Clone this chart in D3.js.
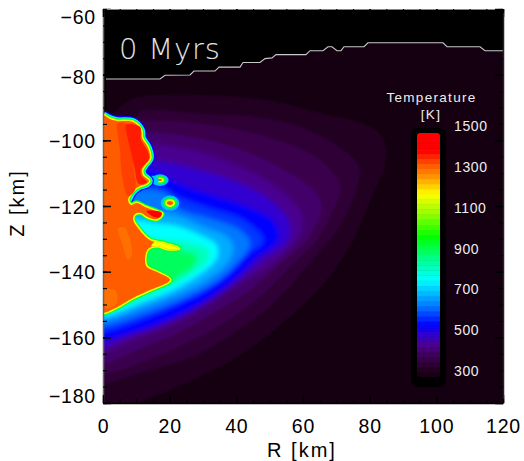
<!DOCTYPE html>
<html>
<head>
<meta charset="utf-8">
<script src="https://cdn.jsdelivr.net/npm/d3@7"></script>
<style>
  html, body { margin: 0; padding: 0; background: #fff; }
  svg { display: block; }
</style>
</head>
<body>
<div id="chart"></div>
<script>
// Temperature field below the surface, with a colour bar

// Ticks

var xTicks = [0, 20, 40, 60, 80, 100, 120]
var yTicks = [-60, -80, -100, -120, -140, -160, -180]
var xMinor = d3.range(0, 121, 5)
var yMinor = d3.range(-180, -59, 5)
var barTicks = [1500, 1300, 1100, 900, 700, 500, 300]

// Colour table

var colorTemps = [300, 340, 400, 460, 510, 555, 650, 780, 880, 990, 1100, 1200, 1290, 1340, 1415, 1500]
var colorValues = ["#140010", "#240022", "#3c0050", "#4a0090", "#3000d0", "#0000ff", "#0078ff", "#00ffff", "#00ff90", "#00ff00", "#90ff00", "#ffff00", "#ff9000", "#ff5c00", "#ff0000", "#ff0000"]

// Surface line [R, Z]

var surfaceLine = [[0.9,-81.3],[17.1,-81.3],[18.6,-80.2],[26.1,-80.1],[27.3,-78.9],[33.6,-78.9],[34.8,-77.7],[41.1,-77.7],[42,-76.3],[47.1,-76.3],[48.6,-75.1],[50.7,-74.9],[51.9,-73.9],[60.9,-73.9],[62.1,-72.7],[66,-72.7],[67.5,-71.5],[68.7,-71.5],[70.2,-72.7],[71.4,-72.7],[72.3,-71.5],[78.3,-71.5],[79.5,-70.3],[102,-70.3],[103.2,-71.5],[113.1,-71.5],[114.6,-72.7],[120,-72.7]]

// Isotherms [R, Z], outermost first

var isoTemps = [335, 365, 395, 425, 460, 510, 555, 600, 650, 700, 780, 840, 920]
var iso335 = [[0,-92],[3.1,-91.8],[5.1,-89.8],[9.1,-87.2],[28.1,-86.2],[49.1,-87.7],[64.1,-91.3],[81.1,-96.3],[84.6,-100.9],[84.6,-108],[81.1,-116.1],[75.1,-130.4],[67.1,-142.5],[56.1,-153.7],[42.1,-164.9],[29.1,-172],[14.1,-178.6],[9.1,-180.1],[0,-181]]
var iso365 = [[9.1,-93.3],[11.6,-91],[29.1,-91.8],[49.1,-93.3],[64.1,-97.9],[74.1,-104.5],[76.9,-108.5],[76.1,-115.1],[72.1,-124.3],[68.1,-130.4],[61.1,-138.5],[51.1,-149.7],[39.1,-158.8],[27.1,-165.9],[12.1,-170.5],[0.9,-174.2]]
var iso395 = [[12.1,-93.8],[29.1,-94.8],[49.1,-98.9],[63.1,-104.5],[69.1,-110],[71.3,-114.1],[69.1,-121.2],[64.1,-130.4],[56.1,-138.5],[47.1,-147.6],[36.1,-155.7],[25.1,-161.8],[12.1,-167.4],[0.9,-171]]
var iso425 = [[12.1,-97.4],[29.1,-99.4],[44.1,-104],[55.1,-109.5],[63.1,-115.1],[65.6,-120.2],[63.6,-126.3],[61.1,-130.4],[53.1,-137.5],[44.1,-145.6],[33.1,-152.7],[22.1,-158.8],[10.1,-163.9],[0.9,-167.9]]
var iso460 = [[13.1,-100.9],[29.1,-103.5],[42.1,-108.5],[52.1,-114.1],[58.6,-120.7],[60.1,-125.3],[58.1,-130.4],[49.6,-138.5],[40.1,-144.1],[29.1,-151.7],[18.1,-157.3],[8.1,-161.3],[0.9,-164.4]]
var iso510 = [[14.1,-106],[29.1,-109],[41.1,-113.1],[50.1,-118.2],[55.6,-124.3],[55.6,-130.4],[47.6,-136.5],[38.1,-144.6],[27.1,-151.7],[16.1,-156.8],[7.1,-159.8],[0.9,-162.6]]
var iso555 = [[14.6,-109],[22.1,-113.1],[32.1,-116.6],[44.1,-120.7],[51.1,-124.8],[52.4,-130.4],[46.1,-135.5],[39.1,-142.5],[29.1,-149.7],[19.1,-154.7],[9.1,-158.3],[0.9,-160.5]]
var iso600 = [[11,-112.8],[18.1,-114.6],[22.1,-117.1],[32.1,-120.7],[42.1,-124.3],[48.1,-130.4],[43.6,-134.4],[37.1,-141],[27.1,-147.6],[17.1,-152.2],[8.1,-155.8],[0.9,-158]]
var iso650 = [[10,-115],[15.1,-115.1],[19.6,-116.6],[22.6,-120.7],[32.1,-123.8],[41.1,-127.3],[44.1,-131.4],[40.1,-137.5],[33.1,-143.6],[23.1,-148.6],[11.1,-153.2],[0.9,-156.3]]
var iso700 = [[18.1,-122.2],[23.1,-123.2],[30.1,-126.3],[37.1,-129.3],[39.1,-132.4],[37.6,-137],[31.1,-142.5],[22.1,-147.1],[11.1,-151.2],[0.9,-154.7]]
var iso780 = [[17.1,-125.3],[23.1,-126.3],[29.1,-128.8],[34.1,-131.9],[34.1,-136],[28.1,-141.5],[21.1,-145.6],[11.1,-149.7],[0.9,-153.5]]
var iso840 = [[16.1,-129.9],[25.1,-130.9],[31.6,-133.4],[31.6,-136.5],[26.1,-141],[20.6,-144.1],[11.1,-148.6],[0.9,-152.5]]
var iso920 = [[14.1,-132.4],[23.1,-133.4],[28.1,-135],[27.1,-138.5],[22.1,-142],[20.6,-143.6],[12,-142]]
var isoList = [iso335, iso365, iso395, iso425, iso460, iso510, iso555, iso600, iso650, iso700, iso780, iso840, iso920]

// Molten region outline [R, Z], and the hotter and cooler patches inside it

var plumeTemp = 1340
var plumeEdge = [[0,-92.3],[2.1,-93.5],[4.2,-94.1],[9,-94.4],[11.4,-96.9],[11.7,-99.3],[13.5,-102.3],[14.1,-105.4],[12.6,-107.5],[11.7,-109],[12,-110.6],[13.8,-112.4],[12.9,-113.3],[11.1,-113.9],[9,-115.4],[7.5,-118.2],[8.4,-119.7],[10.2,-119.1],[12.6,-120.3],[16.5,-121.8],[17.7,-122.4],[16.2,-124],[13.5,-123.4],[11.4,-122.1],[9.6,-122.4],[9,-124],[10.5,-126.7],[14.1,-130.4],[18,-131.3],[21.9,-132.5],[22.8,-133],[19.5,-133.1],[16.2,-132.2],[13.5,-133.1],[12.6,-136.5],[13.2,-138.6],[16.2,-140.1],[20.1,-142.5],[14.1,-145.6],[9,-148],[4.2,-150.8],[0,-152.6]]
var patchMid = [[4.5,-94.7],[7.2,-95.3],[9.3,-109],[9.6,-115.1],[7.5,-117],[5.7,-110.6],[5.1,-102.9]]
var patchRed = [[6.9,-95.3],[11.1,-95.9],[11.4,-99.9],[13.2,-102.9],[13.8,-105.7],[11.4,-108.7],[11.4,-110.6],[13.2,-112.7],[10.8,-113.3],[9.3,-107.5],[8.1,-102.3],[7.2,-98.4]]
var patchTip = [[13.1,-121.5],[17.6,-122],[17.1,-123.4],[15.6,-123.4],[13.5,-122.1]]
var patchCoolA = [[4.5,-126.7],[6.6,-126.7],[8.7,-134.9],[7.5,-136.5],[5.7,-131.3]]
var patchCoolB = [[0.6,-145.6],[3.6,-145.6],[4.2,-149.6],[0.6,-151]]
var patchTail = [[15.5,-130.9],[18,-131.3],[22.8,-133],[19.5,-133.1],[16.2,-132.2],[14.5,-132.4]]
var patchTemps = [1362, 1392, 1415, 1322, 1322, 1190]
var patchList = [patchMid, patchRed, patchTip, patchCoolA, patchCoolB, patchTail]

// Two hot blobs beside the plume: centres, then ring temperatures and radii in km

var blobR = [17.1, 20.1]
var blobZ = [-112.1, -119.1]
var ringTemps = [720, 950, 1190, 1350]
var ringRx = [[2.6, 1.9, 1.2, 0.6], [2.8, 2.1, 1.5, 0.9]]
var ringRy = [[1.8, 1.3, 0.7, 0.3], [2.3, 1.7, 1.2, 0.6]]

// Create the SVG

var margin = { top: 9, right: 21, bottom: 58, left: 103 }

var width = 524 - margin.left - margin.right,
    height = 461 - margin.top - margin.bottom

var svg = d3.select("#chart").append("svg")
    .attr("width", width + margin.left + margin.right)
    .attr("height", height + margin.top + margin.bottom)
    .append("g")
    .attr("transform", "translate(" + margin.left + "," + margin.top + ")")

var defs = svg.append("defs")

defs.append("clipPath").attr("id", "plot")
  .append("rect").attr("width", width).attr("height", height)

defs.append("filter").attr("id", "crisp")
  .append("feGaussianBlur").attr("stdDeviation", 0.8)

defs.append("filter").attr("id", "soft")
  .append("feGaussianBlur").attr("stdDeviation", 2.6)

defs.append("filter").attr("id", "softer")
  .append("feGaussianBlur").attr("stdDeviation", 0.7)

// Scales

var xScale = d3.scaleLinear().domain([0, 120]).range([0, width])
var yScale = d3.scaleLinear().domain([-60, -180]).range([0, height])
var tempColor = d3.scaleLinear().domain(colorTemps).range(colorValues).clamp(true)

var barScale = d3.scaleLinear().domain([300, 1500]).range([377 - margin.top, 133 - margin.top])
var barLabelScale = d3.scaleLinear().domain([300, 1500]).range([371 - margin.top, 126 - margin.top])

// Line generators

var line = d3.line()
  .x(function (d) { return xScale(d[0]) })
  .y(function (d) { return yScale(d[1]) })

var closedCurve = d3.line()
  .x(function (d) { return xScale(d[0]) })
  .y(function (d) { return yScale(d[1]) })
  .curve(d3.curveCatmullRomClosed.alpha(0.5))

var openCurve = d3.line()
  .x(function (d) { return xScale(d[0]) })
  .y(function (d) { return yScale(d[1]) })
  .curve(d3.curveCatmullRom.alpha(0.5))

var ground = d3.area()
  .x(function (d) { return xScale(d[0]) })
  .y0(yScale(-180))
  .y1(function (d) { return yScale(d[1]) })

// Regions touch R=0, so carry them past the left edge and let the clip cut them

function closeLeft(points) {
  return [[-3, points[0][1]]].concat(points, [[-3, points[points.length - 1][1]]])
}

// Sky and ground

var plot = svg.append("g").attr("clip-path", "url(#plot)")

plot.append("rect")
  .attr("width", width)
  .attr("height", height)
  .attr("fill", "#000")

plot.append("path")
  .datum(surfaceLine)
  .attr("d", ground)
  .attr("fill", colorValues[0])

// Temperature bands: the dark outer ones keep their steps, the rest run together

var outerBands = 4

plot.append("g")
  .attr("filter", "url(#crisp)")
  .selectAll("path")
  .data(isoList.slice(0, outerBands))
  .enter().append("path")
  .attr("d", function (d) { return closedCurve(closeLeft(d)) })
  .attr("fill", function (d, i) { return tempColor(isoTemps[i]) })

plot.append("g")
  .attr("filter", "url(#soft)")
  .selectAll("path")
  .data(isoList.slice(outerBands))
  .enter().append("path")
  .attr("d", function (d) { return closedCurve(closeLeft(d)) })
  .attr("fill", function (d, i) { return tempColor(isoTemps[i + outerBands]) })

// Blobs

var blobs = plot.append("g").attr("filter", "url(#softer)")

blobR.forEach(function (r, b) {
  blobs.selectAll(".ring" + b)
    .data(ringTemps)
    .enter().append("ellipse")
    .attr("class", "ring" + b)
    .attr("cx", xScale(r))
    .attr("cy", yScale(blobZ[b]))
    .attr("rx", function (d, i) { return xScale(ringRx[b][i]) - xScale(0) })
    .attr("ry", function (d, i) { return yScale(-60 - ringRy[b][i]) - yScale(-60) })
    .attr("fill", function (d) { return tempColor(d) })
})

// neck between the first blob and the plume
blobs.append("ellipse")
  .attr("cx", xScale(14.8))
  .attr("cy", yScale(blobZ[0]))
  .attr("rx", xScale(2) - xScale(0))
  .attr("ry", yScale(-61.3) - yScale(-60))
  .attr("fill", tempColor(720))

// Plume: cold halo on the upper edge, then hotter rings going in

var plume = plot.append("g").attr("filter", "url(#softer)")
var upperEdge = plumeEdge.slice(0, 16)

plume.append("path").datum(upperEdge).attr("d", openCurve)
  .attr("fill", "none").attr("stroke", tempColor(555)).attr("stroke-width", 10)

plume.append("path").datum(upperEdge).attr("d", openCurve)
  .attr("fill", "none").attr("stroke", tempColor(780)).attr("stroke-width", 7.5)

plume.selectAll(".edge")
  .data([950, 1190])
  .enter().append("path")
  .attr("class", "edge")
  .attr("d", closedCurve(closeLeft(plumeEdge)))
  .attr("fill", "none")
  .attr("stroke", function (d) { return tempColor(d) })
  .attr("stroke-width", function (d) { return d === 950 ? 5.5 : 3 })

plume.append("path")
  .attr("d", closedCurve(closeLeft(plumeEdge)))
  .attr("fill", tempColor(plumeTemp))

plume.selectAll(".patch")
  .data(patchList)
  .enter().append("path")
  .attr("class", "patch")
  .attr("d", function (d) { return closedCurve(d) })
  .attr("fill", function (d, i) { return tempColor(patchTemps[i]) })

// Surface line

plot.append("path")
  .datum(surfaceLine)
  .attr("d", line)
  .attr("fill", "none")
  .attr("stroke", "#c8c8c8")
  .attr("stroke-width", 1.1)

// Colour bar

plot.append("rect")
  .attr("x", 411 - margin.left)
  .attr("y", 128 - margin.top)
  .attr("width", 35)
  .attr("height", 259)
  .attr("rx", 7)
  .attr("fill", "#000")

defs.append("clipPath").attr("id", "barclip")
  .append("rect")
  .attr("x", 417 - margin.left)
  .attr("y", barScale(1500))
  .attr("width", 23)
  .attr("height", barScale(300) - barScale(1500))
  .attr("rx", 3)

var barLevels = d3.range(300, 1500, 25)

svg.append("g")
  .attr("clip-path", "url(#barclip)")
  .selectAll("rect")
  .data(barLevels)
  .enter().append("rect")
  .attr("x", 417 - margin.left)
  .attr("width", 23)
  .attr("y", function (d) { return barScale(d + 25) })
  .attr("height", function (d) { return barScale(d) - barScale(d + 25) + 0.5 })
  .attr("fill", function (d) { return tempColor(d + 12) })

svg.append("g")
  .selectAll("text")
  .data(barTicks)
  .enter().append("text")
  .attr("x", 454 - margin.left)
  .attr("y", function (d) { return barLabelScale(d) })
  .attr("dy", "0.36em")
  .attr("fill", "#eee")
  .attr("font-family", "'Liberation Sans'")
  .attr("font-size", 14)
  .attr("letter-spacing", 0.6)
  .text(function (d) { return d })

svg.append("text")
  .attr("x", 431.5 - margin.left)
  .attr("y", 102 - margin.top)
  .attr("text-anchor", "middle")
  .attr("fill", "#eee")
  .attr("font-family", "'Liberation Sans'")
  .attr("font-size", 13.5)
  .attr("letter-spacing", 1.3)
  .text("Temperature")

svg.append("text")
  .attr("x", 431 - margin.left)
  .attr("y", 119 - margin.top)
  .attr("text-anchor", "middle")
  .attr("fill", "#eee")
  .attr("font-family", "'Liberation Sans'")
  .attr("font-size", 13.5)
  .attr("letter-spacing", 1.3)
  .text("[K]")

svg.append("text")
  .attr("x", 119 - margin.left)
  .attr("y", 59 - margin.top)
  .attr("fill", "#e4e4e4")
  .attr("font-family", "'DejaVu Sans'")
  .attr("font-weight", 200)
  .attr("font-size", 29)
  .attr("letter-spacing", 0.8)
  .text("0 Myrs")

// Axes

var axes = svg.append("g")

function styleAxis(g) {
  g.attr("font-family", "'Liberation Sans'").attr("font-size", 19.5)
  g.selectAll("text").attr("fill", "#000").attr("letter-spacing", 0.8)
  g.selectAll("line").attr("stroke", "#000").attr("stroke-width", 1.5)
  g.select(".domain").attr("stroke", "#666").attr("stroke-width", 1.5)
}

function styleMinor(g) {
  g.select(".domain").remove()
  g.selectAll("line").attr("stroke", "#000").attr("stroke-width", 1.2)
}

var yLabels = axes.append("g")
  .call(d3.axisLeft(yScale).tickValues(yTicks).tickSize(-8).tickSizeOuter(0).tickPadding(7))
  .call(styleAxis)

// first, second and last y labels sit inside their ticks
var yNudge = { "-60": 8, "-80": 2.5, "-180": -7 }
yLabels.selectAll("text").attr("transform", function (d) {
  return "translate(0," + (yNudge[d] || 1) + ")"
})

axes.append("g")
  .attr("transform", "translate(0," + height + ")")
  .call(d3.axisBottom(xScale).tickValues(xTicks).tickSize(-8).tickSizeOuter(0).tickPadding(16))
  .call(styleAxis)
  .select(".domain").attr("stroke", "#000")

axes.append("g")
  .call(d3.axisTop(xScale).tickValues(xTicks).tickSize(-8).tickSizeOuter(0).tickFormat(""))
  .call(styleAxis)
  .select(".domain").attr("stroke", "#888").attr("stroke-width", 1)

axes.append("g")
  .attr("transform", "translate(" + width + ",0)")
  .call(d3.axisRight(yScale).tickValues(yTicks).tickSize(-8).tickSizeOuter(0).tickFormat(""))
  .call(styleAxis)
  .select(".domain").attr("stroke", "#222")

axes.append("g")
  .call(d3.axisLeft(yScale).tickValues(yMinor).tickSize(-4).tickSizeOuter(0).tickFormat(""))
  .call(styleMinor)

axes.append("g")
  .attr("transform", "translate(" + width + ",0)")
  .call(d3.axisRight(yScale).tickValues(yMinor).tickSize(-4).tickSizeOuter(0).tickFormat(""))
  .call(styleMinor)

axes.append("g")
  .attr("transform", "translate(0," + height + ")")
  .call(d3.axisBottom(xScale).tickValues(xMinor).tickSize(-4).tickSizeOuter(0).tickFormat(""))
  .call(styleMinor)

axes.append("g")
  .call(d3.axisTop(xScale).tickValues(xMinor).tickSize(-4).tickSizeOuter(0).tickFormat(""))
  .call(styleMinor)

// Axis titles

svg.append("text")
  .attr("x", 302 - margin.left)
  .attr("y", 457 - margin.top)
  .attr("text-anchor", "middle")
  .attr("font-family", "'Liberation Sans'")
  .attr("font-size", 20)
  .attr("letter-spacing", 2)
  .text("R [km]")

svg.append("text")
  .attr("transform", "translate(" + (24 - margin.left) + "," + (203 - margin.top) + ") rotate(-90)")
  .attr("text-anchor", "middle")
  .attr("font-family", "'Liberation Sans'")
  .attr("font-size", 20)
  .attr("letter-spacing", 2)
  .text("Z [km]")
</script>
</body>
</html>
